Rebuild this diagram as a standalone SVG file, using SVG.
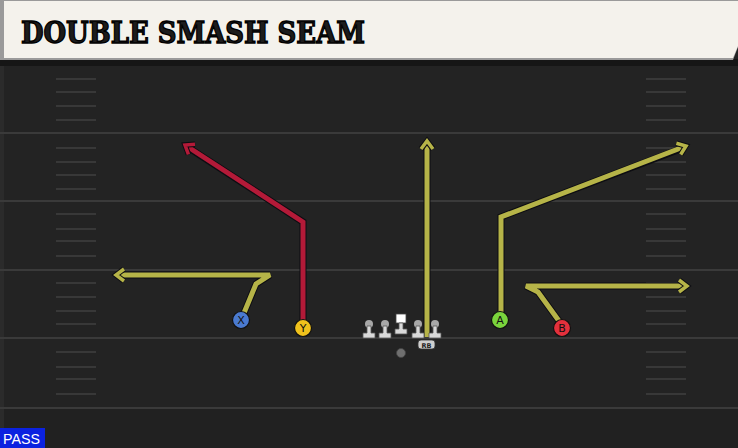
<svg xmlns="http://www.w3.org/2000/svg" width="738" height="448" viewBox="0 0 738 448">
<defs>
<style>
.yard{stroke:#3a3a3a;stroke-width:2}
.hash{stroke:#383838;stroke-width:2}
.rt{fill:none;stroke-width:5;stroke-linejoin:miter;stroke-miterlimit:2.5;stroke-linecap:butt}
.rto{fill:none;stroke:#0d0d12;stroke-width:7;stroke-linejoin:miter;stroke-miterlimit:2.5}
.yel{stroke:#b6b448}
.red{stroke:#b31a38}
.pl{fill:#d9d9d9;stroke:#555;stroke-width:0.8}
.lbl{font-family:"DejaVu Sans","Liberation Sans",sans-serif;font-size:11px;fill:#111;text-anchor:middle}
</style>
<marker id="ay" viewBox="-10 -8 12 16" refX="0" refY="0" markerWidth="12" markerHeight="16" markerUnits="userSpaceOnUse" orient="auto" overflow="visible">
<polyline points="-8,-6 0,0 -8,6" fill="none" stroke="#0d0d12" stroke-width="5.5" stroke-miterlimit="4"/>
<polyline points="-8,-6 0,0 -8,6" fill="none" stroke="#b6b448" stroke-width="3.5" stroke-miterlimit="4"/>
</marker>
<marker id="ar" viewBox="-10 -8 12 16" refX="0" refY="0" markerWidth="12" markerHeight="16" markerUnits="userSpaceOnUse" orient="auto" overflow="visible">
<polyline points="-8,-6 0,0 -8,6" fill="none" stroke="#0d0d12" stroke-width="5.5" stroke-miterlimit="4"/>
<polyline points="-8,-6 0,0 -8,6" fill="none" stroke="#b31a38" stroke-width="3.5" stroke-miterlimit="4"/>
</marker>
</defs>
<rect width="738" height="448" fill="#232323"/>
<rect x="0" y="408" width="738" height="40" fill="#212121"/>
<rect x="0" y="60" width="4" height="388" fill="#2b2b2b"/>
<g id="field">
<line class="yard" x1="0" y1="133" x2="738" y2="133"/>
<line class="yard" x1="0" y1="201" x2="738" y2="201"/>
<line class="yard" x1="0" y1="270" x2="738" y2="270"/>
<line class="yard" x1="0" y1="338" x2="738" y2="338"/>
<line class="yard" x1="0" y1="408" x2="738" y2="408"/>
<g class="hash">
<path d="M56 79H96M56 92H96M56 106H96M56 120H96M56 148H96M56 162H96M56 175H96M56 189H96M56 214H96M56 229H96M56 241H96M56 256H96M56 283H96M56 297H96M56 311H96M56 324H96M56 352H96M56 367H96M56 379H96M56 394H96"/>
<path d="M646 79H686M646 92H686M646 106H686M646 120H686M646 148H686M646 162H686M646 175H686M646 189H686M646 214H686M646 229H686M646 241H686M646 256H686M646 283H686M646 297H686M646 311H686M646 324H686M646 352H686M646 367H686M646 379H686M646 394H686"/>
</g>
</g>
<g id="header">
<rect x="0" y="59" width="738" height="7" fill="#161616"/>
<path d="M0 0H738V47L733 60H0Z" fill="#9a9a9a"/>
<path d="M4 1H738V46L733 58H4Z" fill="#f4f2ec"/>
<text x="21" y="43" font-family="'DejaVu Serif','Liberation Serif',serif" font-weight="bold" font-size="30" fill="#1c1c1c" stroke="#000" stroke-width="1.4" textLength="344" lengthAdjust="spacingAndGlyphs">DOUBLE SMASH SEAM</text>
</g>
<g id="connectors">
<polyline class="rto" points="244,313 256,284 270,275 121,275"/>
<polyline class="rt yel" points="244,313 256,284 270,275 116,275" marker-end="url(#ay)"/>
<polyline class="rto" points="303,321 303,222 189,148"/>
<polyline class="rt red" points="303,321 303,222 185,145" marker-end="url(#ar)"/>
<polyline class="rto" points="427,337 427,146"/>
<polyline class="rt yel" points="427,337 427,141" marker-end="url(#ay)"/>
<polyline class="rto" points="501,313 501,217 683,148"/>
<polyline class="rt yel" points="501,313 501,217 686,146" marker-end="url(#ay)"/>
<polyline class="rto" points="559,321 538,292 526,286 682,286"/>
<polyline class="rt yel" points="559,321 538,292 526,286 687,286" marker-end="url(#ay)"/>
</g>
<g id="line-of-scrimmage">
<g id="lt"><circle cx="369" cy="324" r="4" fill="#a8a8a8"/><path class="pl" d="M367 326H371V333H375V338H363V333H367Z"/></g>
<g id="lg"><circle cx="385" cy="324" r="4" fill="#a8a8a8"/><path class="pl" d="M383 326H387V333H391V338H379V333H383Z"/></g>
<g id="c"><rect x="396" y="314" width="10" height="9" fill="#ffffff" stroke="#444" stroke-width="0.8"/><path class="pl" d="M399 323H403V329H407V334H395V329H399Z"/></g>
<g id="rg"><circle cx="418" cy="324" r="4" fill="#a8a8a8"/><path class="pl" d="M416 326H420V333H424V338H412V333H416Z"/></g>
<g id="rt"><circle cx="435" cy="324" r="4" fill="#a8a8a8"/><path class="pl" d="M433 326H437V333H441V338H429V333H433Z"/></g>
<g id="rb"><rect x="418" y="340" width="17" height="9" rx="3" fill="#cfcfcf" stroke="#333" stroke-width="0.8"/><text x="426.5" y="347.5" font-family="'DejaVu Sans','Liberation Sans',sans-serif" font-size="6.5" font-weight="bold" fill="#222" text-anchor="middle">RB</text></g>
<g id="qb"><circle cx="401" cy="353" r="4.5" fill="#6f6f6f" stroke="#444" stroke-width="0.8"/></g>
</g>
<g id="X"><circle cx="241" cy="320" r="8.5" fill="#4a7ad0" stroke="#111" stroke-width="1.2"/><text class="lbl" x="241" y="324">X</text></g>
<g id="Y"><circle cx="303" cy="328" r="8.5" fill="#f0c21c" stroke="#111" stroke-width="1.2"/><text class="lbl" x="303" y="332">Y</text></g>
<g id="A"><circle cx="500" cy="320" r="8.5" fill="#7ad43c" stroke="#111" stroke-width="1.2"/><text class="lbl" x="500" y="324">A</text></g>
<g id="B"><circle cx="562" cy="328" r="8.5" fill="#e3303c" stroke="#111" stroke-width="1.2"/><text class="lbl" x="562" y="332">B</text></g>
<g id="pass">
<rect x="0" y="428" width="45" height="20" fill="#0b22e0"/>
<text x="3" y="444" font-family="'Liberation Sans',Arial,sans-serif" font-size="14" fill="#ffffff" textLength="37" lengthAdjust="spacingAndGlyphs">PASS</text>
</g>
</svg>
